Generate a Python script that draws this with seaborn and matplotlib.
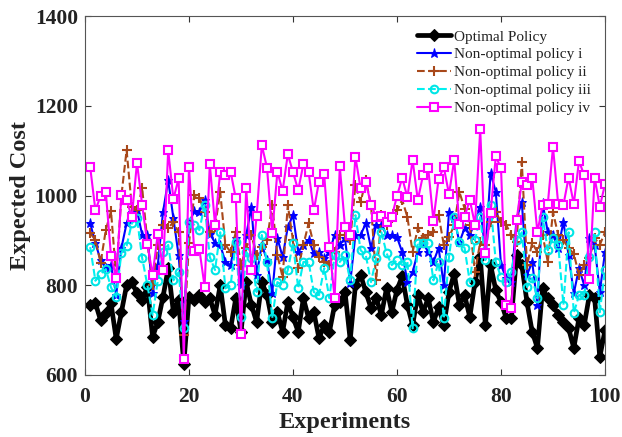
import numpy as np
import pandas as pd
import seaborn as sns
import matplotlib
matplotlib.use("Agg")
import matplotlib.pyplot as plt

experiments = list(range(1, 101))

optimal = [756, 760, 722, 738, 760, 680, 740, 800, 807, 782,
           767, 796, 685, 718, 774, 838, 740, 767, 624, 774,
           767, 778, 762, 771, 734, 800, 711, 704, 771, 696,
           807, 756, 718, 807, 778, 718, 740, 696, 762, 729,
           696, 771, 727, 740, 682, 711, 696, 756, 762, 785,
           678, 800, 823, 785, 749, 771, 734, 794, 740, 790,
           820, 756, 711, 778, 740, 771, 718, 751, 711, 785,
           826, 756, 778, 729, 807, 863, 711, 845, 789, 762,
           727, 727, 867, 845, 762, 696, 660, 793, 771, 756,
           734, 718, 704, 660, 727, 711, 778, 771, 640, 700]

policy_i = [938, 894, 856, 838, 845, 778, 883, 938, 963, 967,
            912, 912, 782, 845, 963, 1034, 949, 867, 720, 938,
            965, 963, 990, 915, 895, 890, 852, 845, 905, 800,
            912, 974, 823, 890, 856, 782, 905, 863, 930, 956,
            874, 890, 901, 871, 874, 860, 874, 912, 890, 905,
            805, 912, 912, 938, 883, 934, 934, 912, 912, 907,
            874, 807, 829, 874, 894, 874, 852, 883, 800, 963,
            949, 896, 927, 912, 941, 974, 874, 1050, 1008, 845,
            816, 807, 949, 985, 823, 852, 756, 983, 918, 912,
            883, 941, 867, 782, 838, 800, 905, 890, 785, 874]

policy_ii = [916, 901, 850, 923, 965, 820, 1000, 1101, 975, 967,
             1016, 896, 800, 890, 934, 927, 941, 918, 690, 894,
             1001, 995, 963, 918, 930, 1008, 890, 874, 918, 845,
             883, 912, 867, 885, 900, 979, 867, 818, 979, 900,
             838, 890, 938, 890, 863, 852, 845, 874, 912, 912,
             900, 1023, 985, 1034, 979, 811, 956, 934, 949, 967,
             990, 952, 874, 927, 905, 912, 918, 956, 890, 907,
             934, 1008, 971, 934, 829, 896, 890, 941, 963, 941,
             934, 912, 896, 1075, 845, 894, 874, 912, 852, 963,
             912, 900, 883, 870, 823, 845, 860, 905, 890, 918]

policy_iii = [885, 810, 825, 836, 795, 774, 872, 888, 938, 950,
              860, 800, 734, 810, 874, 890, 811, 829, 704, 941,
              934, 923, 979, 863, 834, 918, 793, 800, 896, 729,
              874, 860, 785, 912, 852, 727, 807, 800, 834, 894,
              793, 852, 852, 785, 778, 838, 771, 867, 852, 867,
              811, 956, 878, 867, 807, 860, 918, 871, 845, 856,
              845, 852, 704, 894, 894, 894, 811, 852, 727, 863,
              952, 896, 883, 807, 901, 952, 856, 979, 852, 818,
              807, 830, 900, 918, 796, 816, 771, 952, 878, 905,
              890, 756, 918, 738, 778, 778, 863, 918, 740, 834]

policy_iv = [1063, 967, 999, 1008, 865, 816, 1001, 990, 952, 1073,
             978, 892, 823, 915, 835, 1101, 992, 1038, 636, 1064,
             877, 880, 797, 1070, 935, 1053, 1045, 1053, 994, 691,
             1017, 834, 954, 1112, 1062, 917, 1053, 1010, 1092, 1052,
             1012, 1070, 1052, 967, 1031, 1047, 886, 772, 1065, 930,
             912, 1086, 1016, 1030, 979, 953, 955, 940, 953, 999,
             1039, 996, 1079, 990, 1045, 1061, 944, 1037, 1063, 1003,
             1079, 936, 953, 990, 935, 1148, 871, 962, 1087, 1061,
             757, 749, 945, 1030, 1023, 1040, 918, 979, 981, 1108,
             981, 979, 1040, 981, 1077, 1045, 813, 1040, 975, 1025]

labels = ["Optimal Policy", "Non-optimal policy i", "Non-optimal policy ii",
          "Non-optimal policy iii", "Non-optimal policy iv"]
x_ticks = [0, 20, 40, 60, 80, 100]
y_ticks = [600, 800, 1000, 1200, 1400]

sns.set_theme(style="ticks")
plt.rcParams["font.family"] = ["Liberation Serif", "DejaVu Serif"]

fig = plt.figure(figsize=(6.22, 4.37), dpi=100)
ax = fig.add_axes([85 / 622, 1 - 375 / 437, 520 / 622, 359 / 437])

series = [optimal, policy_i, policy_ii, policy_iii, policy_iv]
styles = [
    dict(color="black", linestyle="-", linewidth=3.4, marker="D", markersize=6.5,
         markerfacecolor="black", markeredgecolor="black"),
    dict(color="#0000FF", linestyle="-", linewidth=1.5, marker="*", markersize=6.5,
         markerfacecolor="#0000FF", markeredgecolor="#0000FF"),
    dict(color="#A8481A", linestyle="--", linewidth=1.5, marker="+", markersize=7,
         markeredgewidth=1.5, markeredgecolor="#A8481A"),
    dict(color="#00F0F0", linestyle="--", linewidth=1.5, marker="o", markersize=5.5,
         markerfacecolor="none", markeredgewidth=1.5, markeredgecolor="#00E5E5"),
    dict(color="#FF00FF", linestyle="-", linewidth=1.5, marker="s", markersize=5.5,
         markerfacecolor="white", markeredgewidth=1.5, markeredgecolor="#FF00FF"),
]

for vals, lab, st in zip(series, labels, styles):
    df = pd.DataFrame({"Experiments": experiments, "Cost": vals})
    sns.lineplot(data=df, x="Experiments", y="Cost", ax=ax, label=lab, **st)

ax.set_xlim(0, 100)
ax.set_ylim(600, 1400)
ax.set_xticks(x_ticks)
ax.set_yticks(y_ticks)
ax.tick_params(direction="in", top=True, right=True, length=4, width=0.8,
               colors="#333333", labelsize=15.5, labelcolor="#222222", pad=5)
ax.tick_params(axis="x", pad=9)
for t in ax.get_xticklabels() + ax.get_yticklabels():
    t.set_fontweight("bold")
for s in ax.spines.values():
    s.set_visible(True)
    s.set_color("#555555")
    s.set_linewidth(0.8)

ax.set_xlabel("Experiments", fontsize=17.5, fontweight="bold", color="#222222", labelpad=3)
ax.set_ylabel("Expected Cost", fontsize=17.5, fontweight="bold", color="#222222", labelpad=3)

leg = ax.legend(loc="upper left", bbox_to_anchor=(0.633, 0.97), frameon=False,
                fontsize=11, handlelength=2.2, handletextpad=0.2, labelspacing=0.28,
                borderaxespad=0, borderpad=0.2)
for txt in leg.get_texts():
    txt.set_color("#222222")

fig.savefig("out.png", dpi=100)
